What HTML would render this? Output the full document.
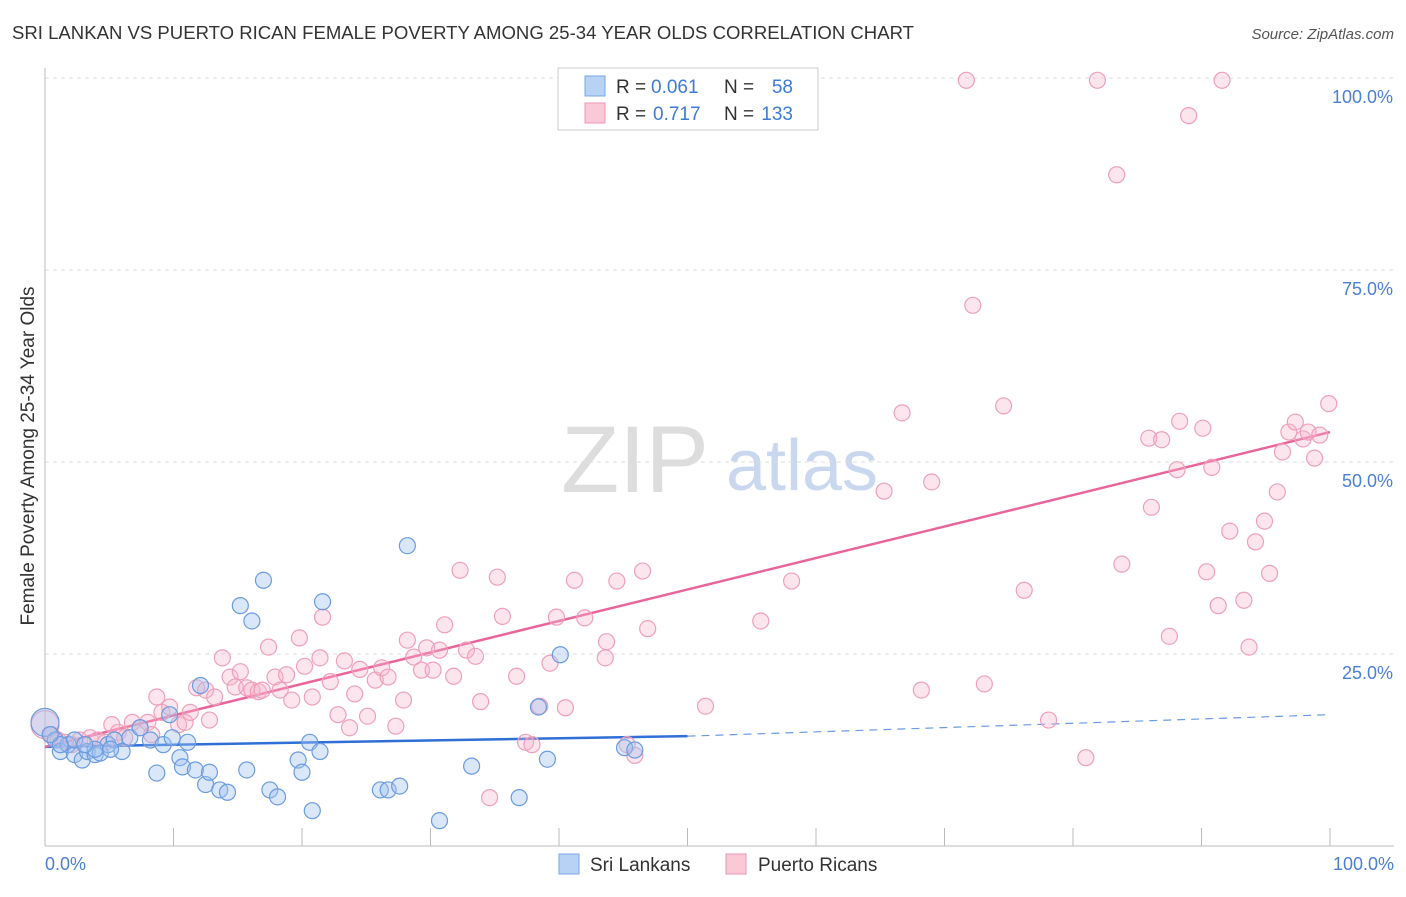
<!DOCTYPE html>
<html><head><meta charset="utf-8"><style>
body{margin:0;background:#fff;font-family:"Liberation Sans",sans-serif;}
svg text{font-family:"Liberation Sans",sans-serif;}
</style></head><body>
<svg id="chart" width="1406" height="892">
<text x="12" y="39" font-size="18" fill="#333" textLength="902" lengthAdjust="spacingAndGlyphs">SRI LANKAN VS PUERTO RICAN FEMALE POVERTY AMONG 25-34 YEAR OLDS CORRELATION CHART</text>
<text x="1394" y="39" font-size="15" fill="#555" font-style="italic" text-anchor="end">Source: ZipAtlas.com</text>
<text x="635" y="492" font-size="95" fill="#ddd" font-family="Liberation Serif" text-anchor="middle">ZIP</text>
<text x="802" y="490" font-size="72" fill="#c9d8ee" text-anchor="middle">atlas</text>
<g id="grid"></g>
<g id="axes"></g>
<g id="lines"></g>
<g id="points"></g>
<text transform="translate(34,456) rotate(-90)" font-size="19" fill="#333" text-anchor="middle">Female Poverty Among 25-34 Year Olds</text>
<text x="45" y="870" font-size="18" fill="#4a7fd4">0.0%</text>
<text x="1394" y="870" font-size="18" fill="#4a7fd4" text-anchor="end">100.0%</text>
<g>
<rect x="558" y="68" width="260" height="62" fill="#fff" stroke="#ccc"/>
<rect x="585" y="76" width="20" height="20" fill="#b8d2f5" stroke="#7aa6e6"/>
<rect x="585" y="103" width="20" height="20" fill="#fbc8d8" stroke="#ee96b4"/>
<text x="616" y="93" font-size="19" fill="#333">R =</text>
<text x="651" y="93" font-size="19" fill="#3d7bd8">0.061</text>
<text x="724" y="93" font-size="19" fill="#333">N =</text>
<text x="793" y="93" font-size="19" fill="#3d7bd8" text-anchor="end">58</text>
<text x="616" y="120" font-size="19" fill="#333">R =</text>
<text x="653" y="120" font-size="19" fill="#3d7bd8">0.717</text>
<text x="724" y="120" font-size="19" fill="#333">N =</text>
<text x="793" y="120" font-size="19" fill="#3d7bd8" text-anchor="end">133</text>
</g>
<g>
<rect x="559" y="854" width="20" height="20" fill="#b8d2f5" stroke="#7aa6e6"/>
<text x="590" y="871" font-size="19" fill="#333">Sri Lankans</text>
<rect x="726" y="854" width="20" height="20" fill="#fbc8d8" stroke="#ee96b4"/>
<text x="758" y="871" font-size="19" fill="#333">Puerto Ricans</text>
</g>
</svg>
<script>
const yTicks=[25,50,75,100];
const yTickLabels=["25.0%","50.0%","75.0%","100.0%"];
const xTicks=[10,20,30,40,50,60,70,80,90,100];
const blueX=[0,0.8,1.2,1.8,2.3,2.9,3.3,3.9,4.3,4.9,5.4,6,6.6,7.4,8.2,8.7,9.2,9.7,9.9,10.5,10.7,11.1,11.7,12.1,12.5,12.8,13.6,14.2,15.2,15.7,16.1,17,17.5,18.1,19.7,20,20.6,20.8,21.4,21.6,26.1,26.7,27.6,28.2,30.7,33.2,36.9,38.4,39.1,40.1,45.1,45.9,3.9,5.1,1.2,2.3,0.4,3.1];
const blueY=[16.1,13.8,12.3,13.2,11.9,11.2,12.3,11.9,12.1,13.2,13.8,12.3,14.1,15.4,13.8,9.5,13.2,17.1,14.1,11.5,10.3,13.5,9.9,20.9,8,9.6,7.3,7.0,31.3,9.9,29.3,34.6,7.3,6.4,11.2,9.6,13.5,4.6,12.3,31.8,7.3,7.3,7.8,39.1,3.3,10.4,6.3,18.1,11.3,24.9,12.8,12.5,12.6,12.6,13.2,13.8,14.5,13.2];
const pinkX=[0,0.5,1.0,1.6,2.1,2.7,3.5,4.1,4.7,5.2,5.7,6.2,6.8,7.4,8.0,8.3,8.7,9.1,9.7,10.4,10.9,11.3,11.8,12.5,12.8,13.2,13.8,14.4,14.8,15.2,15.7,16.1,16.6,16.9,17.4,17.9,18.3,18.8,19.2,19.8,20.2,20.8,21.4,21.6,22.2,22.8,23.3,23.7,24.1,24.5,25.1,25.7,26.2,26.7,27.3,27.9,28.2,28.7,29.3,29.7,30.2,30.7,31.1,31.8,32.3,32.8,33.5,33.9,34.6,35.2,35.6,36.7,37.4,37.9,38.5,39.3,39.8,40.5,41.2,42.0,43.6,43.7,44.5,45.3,45.9,46.5,46.9,51.4,55.7,58.1,65.3,66.7,68.2,69.0,71.7,72.2,73.1,74.6,76.2,78.1,81.0,81.9,83.4,83.8,85.9,86.1,86.9,87.5,88.1,88.3,89.0,90.1,90.4,90.8,91.3,91.6,92.2,93.3,93.7,94.2,94.9,95.3,95.9,96.3,96.8,97.3,97.9,98.3,98.8,99.2,99.9];
const pinkY=[15.8,14.5,13.8,13.5,13.2,13.8,14.1,13.8,13.5,15.8,14.8,14.1,16.1,15.4,16.1,14.5,19.4,17.4,18.1,15.8,16.1,17.4,20.6,20.3,16.4,19.4,24.5,22.0,20.7,22.7,20.6,20.3,20.1,20.3,25.9,22.0,20.3,22.3,19.0,27.1,23.4,19.4,24.5,29.8,21.4,17.1,24.1,15.4,19.8,23.0,16.9,21.6,23.2,22.0,15.6,19.0,26.8,24.6,22.9,25.8,22.9,25.5,28.8,22.1,35.9,25.5,24.7,18.8,6.3,35.0,29.9,22.1,13.5,13.2,18.2,23.8,29.8,18.0,34.6,29.7,24.5,26.6,34.5,13.2,11.8,35.8,28.3,18.2,29.3,34.5,46.2,56.4,20.3,47.4,99.7,70.4,21.1,57.3,33.3,16.4,11.5,99.7,87.4,36.7,53.1,44.1,52.9,27.3,49.0,55.3,95.1,54.4,35.7,49.3,31.3,99.7,41.0,32.0,25.9,39.6,42.3,35.5,46.1,51.3,53.9,55.2,53.0,53.9,50.5,53.5,57.6];
const blueLine=[12.9,14.3,17.1]; // values at x=0, x=50, x=100
const pinkLine=[12.9,53.9]; // values at x=0, x=100
const NS="http://www.w3.org/2000/svg";
const X0=45,X1=1330,Y0=846,Y100=78;
const sx=v=>X0+(X1-X0)*v/100, sy=v=>Y0-(Y0-Y100)*v/100;
function mk(tag,attrs,parent){const e=document.createElementNS(NS,tag);for(const k in attrs)e.setAttribute(k,attrs[k]);document.getElementById(parent).appendChild(e);return e;}
yTicks.forEach((t,i)=>{
 const l=mk('line',{x1:X0,x2:1394,y1:sy(t),y2:sy(t),stroke:'#ddd','stroke-dasharray':'4,4'},'grid');
 
 
 const tx=mk('text',{x:1393,y:sy(t)+25,'font-size':18,fill:'#4a7fd4','text-anchor':'end'},'grid');
 tx.textContent=yTickLabels[i];
 
 
});
const ax=mk('line',{x1:X0,x2:X0,y1:68,y2:Y0,stroke:'#bbb'},'axes');


const bx=mk('line',{x1:X0,x2:1394,y1:Y0,y2:Y0,stroke:'#bbb'},'axes');


xTicks.forEach(t=>{const l=mk('line',{x1:sx(t),x2:sx(t),y1:828,y2:Y0,stroke:'#bbb'},'axes');
 
 });
function pts(xs,ys,fill,stroke,name){xs.forEach((x,i)=>{
 const c=mk('circle',{cx:sx(x),cy:sy(ys[i]),r:(i===0)?14:8,fill:fill,stroke:stroke,'stroke-width':1.2},'points');
 
 });}
pts(pinkX,pinkY,'rgba(248,180,202,0.35)','#eea0ba','puerto-rican-point');
pts(blueX,blueY,'rgba(160,195,240,0.4)','#6b9be0','sri-lankan-point');
const b1=mk('line',{x1:sx(0),y1:sy(blueLine[0]),x2:sx(50),y2:sy(blueLine[1]),stroke:'#2f6fd6','stroke-width':2.5},'lines');


const b2=mk('line',{x1:sx(50),y1:sy(blueLine[1]),x2:sx(100),y2:sy(blueLine[2]),stroke:'#6b9be0','stroke-width':1.2,'stroke-dasharray':'8,6'},'lines');


const p1=mk('line',{x1:sx(0),y1:sy(pinkLine[0]),x2:sx(100),y2:sy(pinkLine[1]),stroke:'#e8649a','stroke-width':2.5},'lines');


</script>
</body></html>
